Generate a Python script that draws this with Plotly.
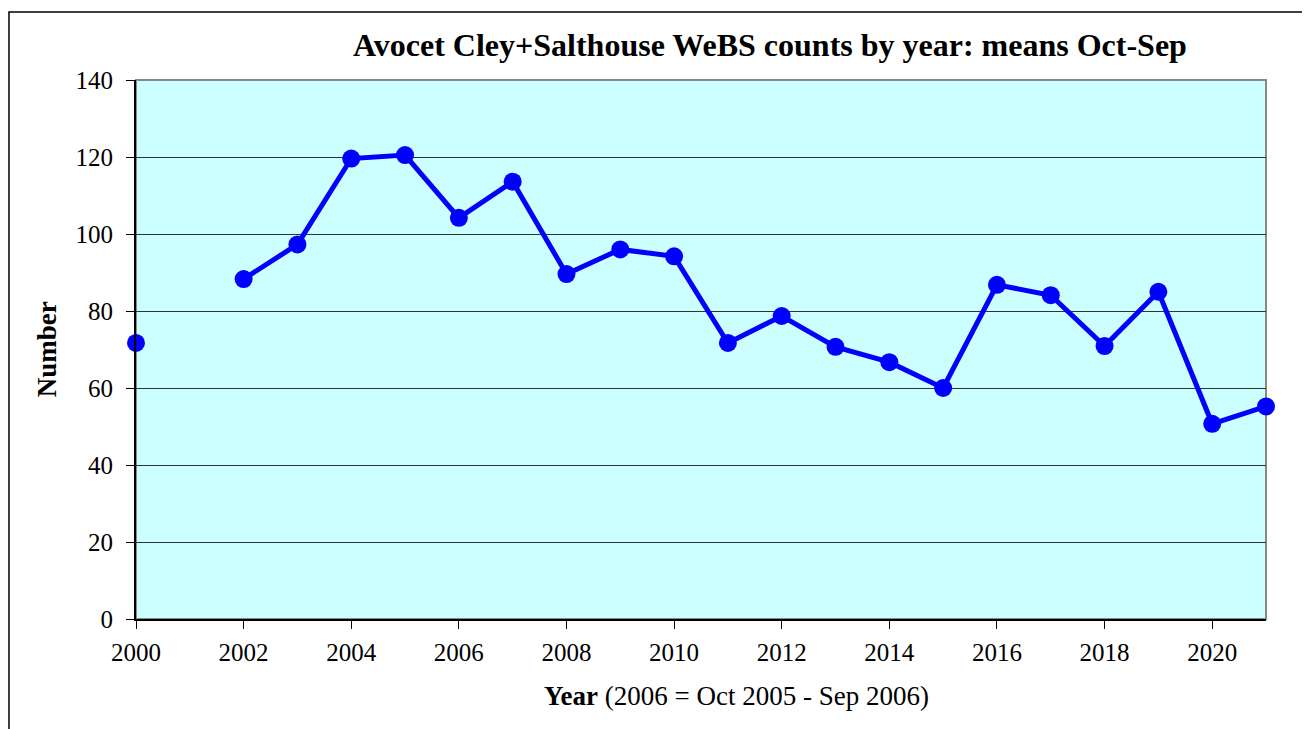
import plotly.graph_objects as go

years = [2000, 2001, 2002, 2003, 2004, 2005, 2006, 2007, 2008, 2009, 2010,
         2011, 2012, 2013, 2014, 2015, 2016, 2017, 2018, 2019, 2020, 2021]
counts = [71.7, None, 88.3, 97.3, 119.6, 120.5, 104.2, 113.6, 89.6, 96.0, 94.2,
          71.7, 78.7, 70.7, 66.7, 60.0, 86.8, 84.1, 70.9, 85.0, 50.7, 55.2]
x_ticks = list(range(2000, 2021, 2))
y_ticks = list(range(0, 141, 20))

title = "Avocet Cley+Salthouse WeBS counts by year: means Oct-Sep"
font = "Liberation Serif, Times New Roman, serif"

fig = go.Figure()
fig.add_trace(go.Scatter(
    x=years, y=counts, mode="lines+markers",
    line=dict(color="#0000FF", width=5),
    marker=dict(color="#0000FF", size=18),
    connectgaps=False, showlegend=False, cliponaxis=False,
))

fig.update_layout(
    width=1302, height=721,
    margin=dict(l=128, r=44, t=72, b=110),
    paper_bgcolor="white", plot_bgcolor="#CCFFFF",
    font=dict(family=font, size=25, color="black"),
    xaxis=dict(range=[2000, 2021], tickvals=x_ticks, showgrid=False, zeroline=False,
               showline=True, linecolor="black", linewidth=2, ticks="outside",
               ticklen=8, tickcolor="black", tickfont=dict(size=25), mirror=False,
               ticklabelstandoff=2),
    yaxis=dict(range=[0, 140], tickvals=y_ticks, showgrid=True, gridcolor="#333333",
               gridwidth=1, zeroline=False, showline=True, linecolor="black", linewidth=2,
               ticks="outside", ticklen=8, tickcolor="black", tickfont=dict(size=25),
               ticklabelstandoff=8),
    shapes=[
        dict(type="rect", xref="paper", yref="paper", x0=0, x1=1, y0=0, y1=1,
             line=dict(color="#888888", width=2), fillcolor="rgba(0,0,0,0)", layer="below"),
        dict(type="rect", xref="paper", yref="paper", x0=-0.1124, x1=1.0372,
             y0=-0.23, y1=1.1262, line=dict(color="black", width=1.5),
             fillcolor="rgba(0,0,0,0)"),
    ],
    annotations=[
        dict(text="<b>" + title + "</b>", xref="paper", yref="paper", x=0.561, y=1.065,
             showarrow=False, font=dict(size=32), xanchor="center", yanchor="middle"),
        dict(text="<b>Number</b>", xref="paper", yref="paper", x=-0.079, y=0.5,
             textangle=-90, showarrow=False, font=dict(size=27), xanchor="center",
             yanchor="middle"),
        dict(text="<b>Year</b> (2006 = Oct 2005 - Sep 2006)", xref="paper", yref="paper",
             x=0.5315, y=-0.142, showarrow=False, font=dict(size=27), xanchor="center",
             yanchor="middle"),
    ],
)

fig.write_html("out.html")
